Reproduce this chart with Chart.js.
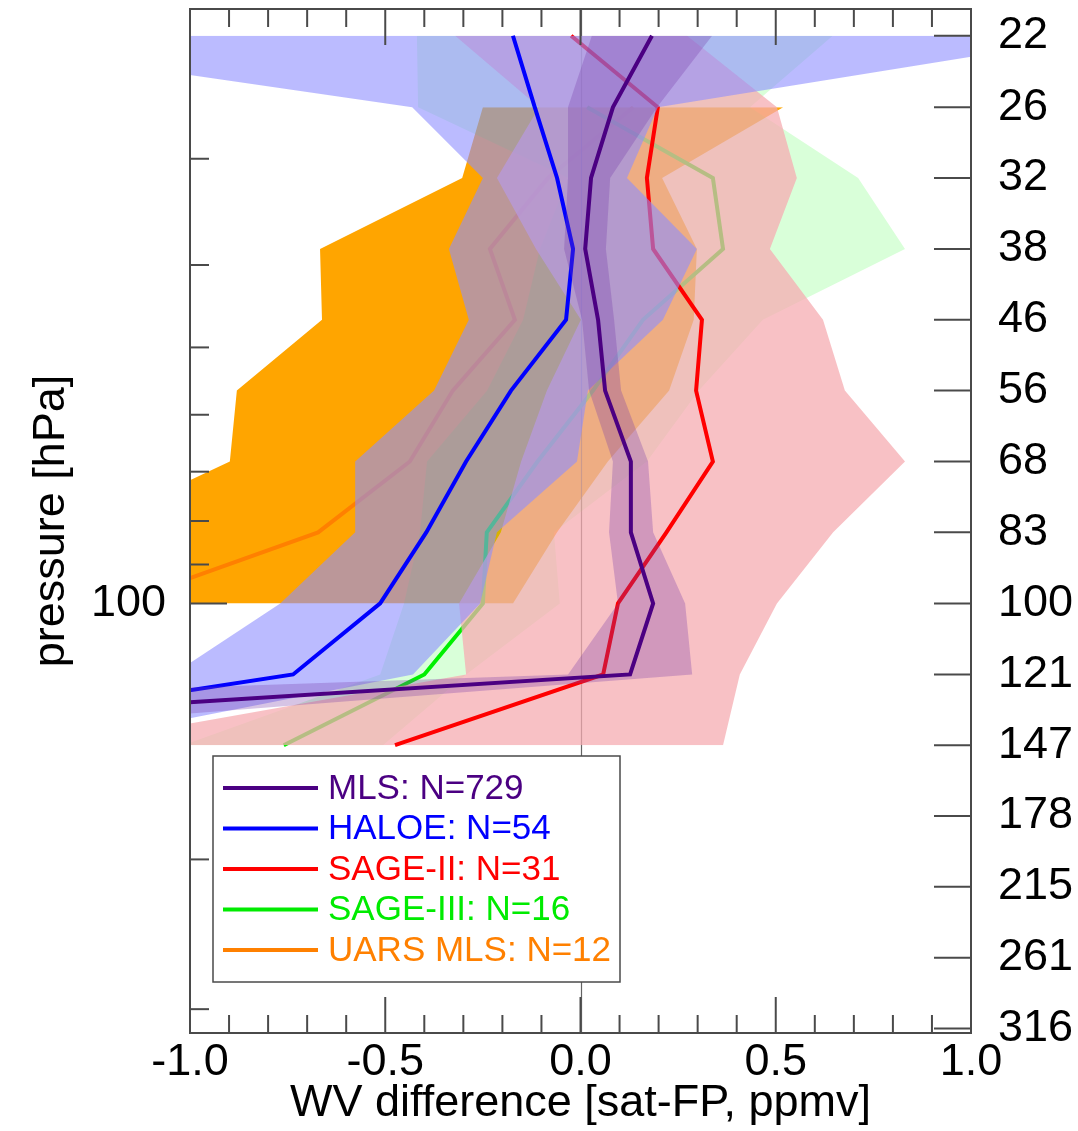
<!DOCTYPE html>
<html>
<head>
<meta charset="utf-8">
<script src="https://cdn.jsdelivr.net/npm/chart.js@4/dist/chart.umd.min.js"></script>
<style>
  html, body { margin: 0; padding: 0; background: #fff; }
</style>
</head>
<body>
<canvas id="wvChart" width="1078" height="1131"></canvas>
<script>
// pressure levels of the profiles (hPa)
const levels = [21.5, 26.1, 31.6, 38.3, 46.4, 56.2, 68.1, 82.5, 100, 121.2, 146.8];

// right axis: level ticks and their labels
const levelTicks = [21.5, 26.1, 31.6, 38.3, 46.4, 56.2, 68.1, 82.5, 100, 121.2, 146.8, 177.8, 215.4, 261.0, 316.2];
const levelLabels = ['22', '26', '32', '38', '46', '56', '68', '83', '100', '121', '147', '178', '215', '261', '316'];
// left axis ticks, only 100 gets a label
const leftTicks = [30, 40, 50, 60, 70, 80, 90, 100, 200, 300];
const leftLabelled = [100];
const xTicks = [-1, -0.5, 0, 0.5, 1];

// mean differences (ppmv) and the shaded spread, per instrument
const mlsMean = [0.183, 0.083, 0.027, 0.012, 0.045, 0.063, 0.129, 0.129, 0.186, 0.127, -2.73];
const mlsLo   = [0.029, -0.032, -0.032, -0.042, 0.004, 0.022, 0.083, 0.073, 0.096, -0.032, -5.3];
const mlsHi   = [0.337, 0.196, 0.076, 0.065, 0.086, 0.104, 0.173, 0.186, 0.268, 0.286, -2.05];

const haloeMean = [-0.173, -0.117, -0.06, -0.019, -0.037, -0.178, -0.293, -0.395, -0.513, -0.736, -1.91];
const haloeLo   = [-1.694, -0.431, -0.25, -0.337, -0.286, -0.375, -0.577, -0.577, -0.769, -1.044, -2.462];
const haloeHi   = [1.333, 0.198, 0.119, 0.298, 0.211, 0.019, -0.009, -0.214, -0.257, -0.429, -1.351];

const sage2Mean = [-0.024, 0.198, 0.17, 0.186, 0.311, 0.296, 0.339, 0.22, 0.096, 0.058, -0.475];
const sage2Lo   = [-0.321, -0.106, -0.214, -0.114, 0.001, -0.086, -0.152, -0.204, -0.311, -0.293, -1.315];
const sage2Hi   = [0.273, 0.503, 0.554, 0.485, 0.621, 0.677, 0.831, 0.647, 0.503, 0.408, 0.365];

const sage3Mean = [null, 0.017, 0.339, 0.365, 0.16, 0.032, -0.11, -0.24, -0.25, -0.40, -0.76];
const sage3Lo   = [-0.419, -0.416, -0.032, -0.104, -0.147, -0.239, -0.393, -0.411, -0.452, -0.513, -1.018];
const sage3Hi   = [0.646, 0.434, 0.711, 0.831, 0.467, 0.303, 0.17, -0.068, -0.053, -0.293, -0.506];

const uarsMean = [null, 0.135, -0.083, -0.232, -0.168, -0.327, -0.437, -0.672, -1.18, null, null];
const uarsLo   = [null, -0.25, -0.303, -0.667, -0.662, -0.88, -0.898, -1.284, -2.186, null, null];
const uarsHi   = [null, 0.519, 0.209, 0.298, 0.29, 0.227, 0.07, -0.06, -0.173, null, null];

const legendNames = ['MLS: N=729', 'HALOE: N=54', 'SAGE-II: N=31', 'SAGE-III: N=16', 'UARS MLS: N=12'];
const legendColors = ['rgb(75,0,130)', 'rgb(0,0,255)', 'rgb(255,0,0)', 'rgb(0,235,0)', 'rgb(255,128,0)'];

const FONT = 'Liberation Sans, Arial, Helvetica, sans-serif';

function pts(vals) {
    return levels.map((p, i) => ({ x: vals[i], y: p })).filter(d => d.x !== null);
}

const datasets = [];
// each instrument: lower edge, upper edge filled to it, then the mean line
function addInstrument(name, mean, lo, hi, lineColor, bandColor, order) {
    datasets.push({ label: name + ' lo', data: pts(lo), borderWidth: 0, borderColor: 'transparent', pointRadius: 0, fill: false, order: order + 2 });
    datasets.push({ label: name + ' hi', data: pts(hi), borderWidth: 0, borderColor: 'transparent', pointRadius: 0, backgroundColor: bandColor, fill: '-1', order: order + 1 });
    datasets.push({ label: name, data: pts(mean), borderColor: lineColor, borderWidth: 4, pointRadius: 0, fill: false, order: order });
}

// drawn bottom to top: UARS, SAGE-III, SAGE-II, HALOE, MLS
addInstrument('UARS MLS', uarsMean, uarsLo, uarsHi, 'rgb(255,128,0)', 'rgb(255,165,0)', 50);
addInstrument('SAGE-III', sage3Mean, sage3Lo, sage3Hi, 'rgb(0,240,0)', 'rgba(0,255,0,0.15)', 40);
addInstrument('SAGE-II', sage2Mean, sage2Lo, sage2Hi, 'rgb(255,0,0)', 'rgba(246,171,177,0.74)', 30);
addInstrument('HALOE', haloeMean, haloeLo, haloeHi, 'rgb(0,0,255)', 'rgba(142,142,255,0.6)', 20);
addInstrument('MLS', mlsMean, mlsLo, mlsHi, 'rgb(75,0,130)', 'rgba(120,60,170,0.3)', 10);

// zero reference line, painted right after the UARS line
const zeroLine = {
    id: 'zeroLine',
    afterDatasetDraw(chart, args) {
        if (chart.data.datasets[args.index].label !== 'UARS MLS') return;
        const { ctx, chartArea: a, scales: { x } } = chart;
        const px = Math.round(x.getPixelForValue(0)) + 0.5;
        ctx.save();
        ctx.strokeStyle = 'rgba(60,60,60,0.8)';
        ctx.lineWidth = 1.2;
        ctx.beginPath();
        ctx.moveTo(px, a.top);
        ctx.lineTo(px, a.bottom);
        ctx.stroke();
        ctx.restore();
    }
};

// frame and inward ticks on all four sides
const frameTicks = {
    id: 'frameTicks',
    afterDatasetsDraw(chart) {
        const { ctx, chartArea: a, scales: { x, y } } = chart;
        ctx.save();
        ctx.strokeStyle = '#4a4a4a';
        ctx.lineWidth = 2;
        const seg = (x1, y1, x2, y2) => { ctx.beginPath(); ctx.moveTo(x1, y1); ctx.lineTo(x2, y2); ctx.stroke(); };
        for (let i = -10; i <= 10; i++) {
            const px = x.getPixelForValue(i / 10);
            const len = i % 5 === 0 ? 36 : 18;
            seg(px, a.bottom, px, a.bottom - len);
            seg(px, a.top, px, a.top + len);
        }
        leftTicks.forEach(p => {
            const py = y.getPixelForValue(p);
            seg(a.left, py, a.left + (leftLabelled.includes(p) ? 37 : 19), py);
        });
        levelTicks.forEach(p => {
            const py = y.getPixelForValue(p);
            seg(a.right - 37, py, a.right, py);
        });
        ctx.strokeRect(a.left, a.top, a.right - a.left, a.bottom - a.top);
        ctx.restore();
    }
};

// boxed legend in the lower left of the plot
const boxLegend = {
    id: 'boxLegend',
    afterDraw(chart) {
        const ctx = chart.ctx;
        const bx = 213, by = 756, bw = 407, bh = 226;
        ctx.save();
        ctx.fillStyle = '#fff';
        ctx.fillRect(bx, by, bw, bh);
        ctx.strokeStyle = '#4a4a4a';
        ctx.lineWidth = 1.5;
        ctx.strokeRect(bx, by, bw, bh);
        ctx.font = '35px ' + FONT;
        ctx.textBaseline = 'middle';
        legendNames.forEach((name, i) => {
            const yy = by + 32 + i * 40.5;
            ctx.strokeStyle = legendColors[i];
            ctx.lineWidth = 4;
            ctx.beginPath();
            ctx.moveTo(bx + 10, yy);
            ctx.lineTo(bx + 105, yy);
            ctx.stroke();
            ctx.fillStyle = legendColors[i];
            ctx.fillText(name, bx + 115, yy + 1);
        });
        ctx.restore();
    }
};

// keep the label overhang from shrinking the plot area
function noOverhang(s) {
    s.paddingTop = 0;
    s.paddingBottom = 0;
    s.paddingLeft = 0;
    s.paddingRight = 0;
}

new Chart(document.getElementById('wvChart').getContext('2d'), {
    type: 'line',
    data: { datasets: datasets },
    options: {
        responsive: false,
        animation: false,
        events: [],
        indexAxis: 'y',
        layout: { padding: { top: 9, left: 0, right: 0, bottom: 0 } },
        plugins: { legend: { display: false }, tooltip: { enabled: false } },
        scales: {
            x: {
                type: 'linear',
                position: 'bottom',
                min: -1,
                max: 1,
                grid: { display: false, drawTicks: false },
                border: { display: false },
                afterBuildTicks: s => { s.ticks = xTicks.map(v => ({ value: v })); },
                ticks: {
                    callback: v => Number(v).toFixed(1),
                    font: { family: FONT, size: 45 },
                    color: '#000',
                    padding: 3,
                    maxRotation: 0,
                    autoSkip: false
                },
                title: {
                    display: true,
                    text: 'WV difference [sat-FP, ppmv]',
                    font: { family: FONT, size: 45 },
                    color: '#000',
                    padding: { top: 0, bottom: 0 }
                },
                afterFit: s => { noOverhang(s); s.height = 98; }
            },
            y: {
                type: 'logarithmic',
                position: 'left',
                min: 20,
                max: 320,
                reverse: true,
                grid: { display: false, drawTicks: false },
                border: { display: false },
                afterBuildTicks: s => { s.ticks = leftLabelled.map(v => ({ value: v })); },
                ticks: {
                    callback: v => String(v),
                    font: { family: FONT, size: 45 },
                    color: '#000',
                    padding: 24,
                    autoSkip: false
                },
                title: {
                    display: true,
                    text: 'pressure [hPa]',
                    font: { family: FONT, size: 45 },
                    color: '#000',
                    padding: { top: 25, bottom: 0 }
                },
                afterFit: s => { noOverhang(s); s.width = 190; }
            },
            y2: {
                type: 'logarithmic',
                position: 'right',
                min: 20,
                max: 320,
                reverse: true,
                grid: { display: false, drawTicks: false },
                border: { display: false },
                afterBuildTicks: s => { s.ticks = levelTicks.map(v => ({ value: v })); },
                ticks: {
                    callback: (v, i) => levelLabels[i],
                    font: { family: FONT, size: 45 },
                    color: '#000',
                    padding: 27,
                    autoSkip: false
                },
                afterFit: s => { noOverhang(s); s.width = 107; }
            }
        }
    },
    plugins: [zeroLine, frameTicks, boxLegend]
});
</script>
</body>
</html>
